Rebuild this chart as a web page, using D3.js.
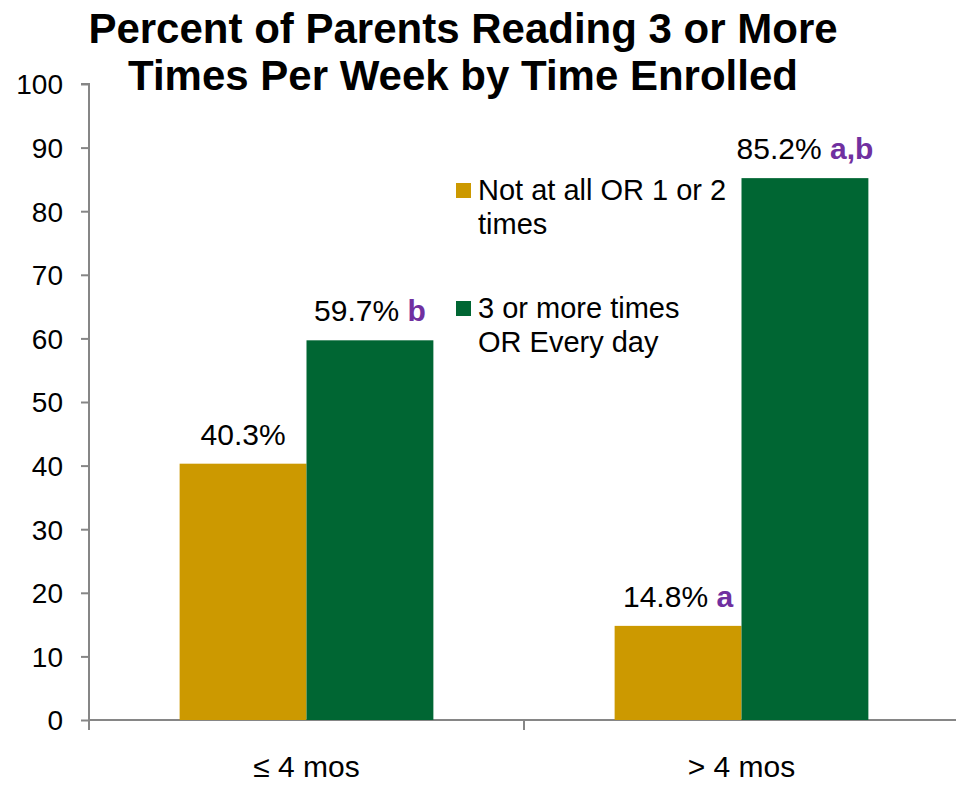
<!DOCTYPE html>
<html><head><meta charset="utf-8">
<script src="https://cdn.jsdelivr.net/npm/d3@7"></script>
<style>body{margin:0;background:#fff;} svg{display:block;font-family:Arial,"Liberation Sans",sans-serif;}</style>
</head><body>
<svg id="chart" width="956" height="785"></svg>
<script>
const categories = ["\u2264 4 mos", "> 4 mos"];
const seriesNames = ["Not at all OR 1 or 2 times", "3 or more times OR Every day"];
const notAtAll = [40.3, 14.8];
const threeOrMore = [59.7, 85.2];
const sigNotAtAll = ["", "a"];
const sigThreeOrMore = ["b", "a,b"];
const yTicks = [0,10,20,30,40,50,60,70,80,90,100];
const titleLines = ["Percent of Parents Reading 3 or More", "Times Per Week by Time Enrolled"];
const legendLines = [["Not at all OR 1 or 2", "times"], ["3 or more times", "OR Every day"]];
const colors = ["#CC9900", "#006633"];
const sigColor = "#7030A0";

(function(){
const svg = d3.select("#chart");
const mL = 89, mR = 959, mT = 84, mB = 720;
const y = d3.scaleLinear().domain([0,100]).range([mB, mT]);
const x0 = d3.scaleBand().domain(categories).range([mL, mR]).paddingInner(0).paddingOuter(0);
const x1 = d3.scaleBand().domain([0,1]).range([0, x0.bandwidth()]).paddingInner(0).paddingOuter(0.7143);

// title
svg.append("text").attr("text-anchor","middle")
  .style("font-weight","bold").style("font-size","42px")
  .selectAll("tspan").data(titleLines).join("tspan")
  .attr("x", 463).attr("y", (d,i)=>43+i*47).text(d=>d);

// y axis
const yAxis = svg.append("g").attr("transform",`translate(${mL},0)`)
  .call(d3.axisLeft(y).tickValues(yTicks).tickSize(8).tickPadding(18));
yAxis.select(".domain").attr("stroke","#868686").attr("stroke-width",2).attr("d",`M-8,${mT}H0V${mB}`);
yAxis.selectAll(".tick line").attr("stroke","#868686").attr("stroke-width",2);
yAxis.selectAll(".tick text").style("font-size","28px").style("font-family","Arial,'Liberation Sans',sans-serif").attr("fill","#000").attr("dy","0.35em");

// x axis
const xAxis = svg.append("g").attr("transform",`translate(0,${mB})`)
  .call(d3.axisBottom(x0).tickSize(0).tickPadding(36));
xAxis.select(".domain").attr("stroke","#868686").attr("stroke-width",2).attr("d",`M${mL},0H${mR}`);
xAxis.selectAll(".tick text").style("font-size","30px").style("font-family","Arial,'Liberation Sans',sans-serif").attr("fill","#000");
const seps = [mL, x0(categories[1]), mR];
svg.append("g").selectAll("line").data(seps).join("line")
  .attr("x1",d=>d).attr("x2",d=>d).attr("y1",mB).attr("y2",mB+10)
  .attr("stroke","#868686").attr("stroke-width",2);

// bars
const data = categories.map((c,i)=>({cat:c, vals:[notAtAll[i], threeOrMore[i]], sig:[sigNotAtAll[i], sigThreeOrMore[i]]}));
const groups = svg.append("g").selectAll("g").data(data).join("g")
  .attr("transform", d=>`translate(${x0(d.cat)},0)`);
groups.selectAll("rect").data(d=>d.vals.map((v,j)=>({v,j}))).join("rect")
  .attr("x", d=>x1(d.j)).attr("width", x1.bandwidth())
  .attr("y", d=>y(d.v)).attr("height", d=>y(0)-y(d.v))
  .attr("fill", d=>colors[d.j]);

// labels
groups.selectAll("text.lbl").data(d=>d.vals.map((v,j)=>({v,j,s:d.sig[j]}))).join("text")
  .attr("class","lbl")
  .attr("x", d=>x1(d.j)+x1.bandwidth()/2).attr("y", d=>y(d.v)-19)
  .attr("text-anchor","middle").style("font-size","30px")
  .each(function(d){
    const t = d3.select(this);
    t.append("tspan").attr("fill","#000").text(d.v.toFixed(1)+"%");
    if (d.s) t.append("tspan").attr("fill",sigColor).style("font-weight","bold").text(" "+d.s);
  });

// legend
const leg = svg.append("g");
const legY = [183, 301];
legendLines.forEach((lines,i)=>{
  leg.append("rect").attr("x",456).attr("y",legY[i]).attr("width",15).attr("height",15).attr("fill",colors[i]);
  lines.forEach((l,k)=>{
    leg.append("text").attr("x",478).attr("y",legY[i]+17+k*34).style("font-size","29px").attr("fill","#000").text(l);
  });
});
})();
</script>
</body></html>
